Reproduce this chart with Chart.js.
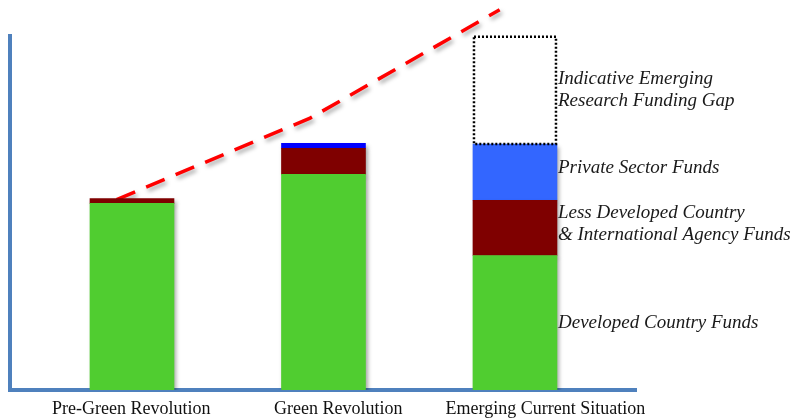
<!DOCTYPE html>
<html>
<head>
<meta charset="utf-8">
<script src="https://cdn.jsdelivr.net/npm/chart.js@4"></script>
<style>
  html, body { margin: 0; padding: 0; background: #fff; }
  #wrap { width: 791px; height: 420px; }
</style>
</head>
<body>
<div id="wrap"><canvas id="fundingChart"></canvas></div>
<script>
const periods = ['Pre-Green Revolution', 'Green Revolution', 'Emerging Current Situation'];
const developedFunds = [52.7, 60.9, 38.0];
const ldcAgencyFunds = [1.4, 7.4, 15.6];
const privateFunds = [null, 1.4, 15.9];
const fundingGap = [null, null, 30.6];
// rough trend of research need (x is shifted slightly left of bar centres)
const needX = [-0.08, 0.93, 1.92];
const needY = [53.8, 76.8, 107.4];
const segmentNotes = [
    ['Developed Country Funds'],
    ['Less Developed Country', '& International Agency Funds'],
    ['Private Sector Funds'],
    ['Indicative Emerging', 'Research Funding Gap']
];

const axisBlue = '#4f81bd';

function points(values) {
    return values.map(function (v, i) { return { x: i, y: v }; });
}

const shadowPlugin = {
    id: 'shadows',
    beforeDatasetDraw: function (chart, args) {
        const ctx = chart.ctx;
        ctx.save();
        if (args.index === 3) return;
        ctx.shadowColor = 'rgba(0,0,0,0.35)';
        ctx.shadowBlur = 4;
        ctx.shadowOffsetX = 2;
        ctx.shadowOffsetY = 3;
    },
    afterDatasetDraw: function (chart) {
        chart.ctx.restore();
    }
};

const notesPlugin = {
    id: 'notes',
    afterDatasetsDraw: function (chart) {
        const ctx = chart.ctx;
        // dotted outline for the funding gap
        const gap = chart.getDatasetMeta(3).data[2];
        ctx.save();
        ctx.strokeStyle = '#000';
        ctx.lineWidth = 2.5;
        ctx.setLineDash([2, 2]);
        ctx.strokeRect(gap.x - gap.width / 2 + 1, gap.y + 1, gap.width - 2, gap.base - gap.y - 1);
        ctx.restore();

        ctx.save();
        ctx.font = 'italic 19px "Liberation Serif", "DejaVu Serif", serif';
        ctx.fillStyle = '#1a1a1a';
        ctx.textBaseline = 'middle';
        for (let d = 0; d < 4; d++) {
            const el = chart.getDatasetMeta(d).data[2];
            const lines = segmentNotes[d];
            const mid = (el.y + el.base) / 2 - (d === 1 || d === 2 ? 4 : 0);
            const x0 = el.x + el.width / 2 + 1;
            lines.forEach(function (t, k) {
                ctx.fillText(t, x0, mid + (k - (lines.length - 1) / 2) * 22);
            });
        }
        ctx.restore();
    }
};

const ctx = document.getElementById('fundingChart').getContext('2d');
new Chart(ctx, {
    data: {
        datasets: [
            { type: 'bar', label: 'Developed Country Funds', data: points(developedFunds), backgroundColor: '#50cd30', stack: 'funds', barThickness: 84 },
            { type: 'bar', label: 'LDC & Agency Funds', data: points(ldcAgencyFunds), backgroundColor: '#7f0000', stack: 'funds', barThickness: 84 },
            { type: 'bar', label: 'Private Sector Funds', data: points(privateFunds), backgroundColor: ['#0000ff', '#0000ff', '#3366ff'], stack: 'funds', barThickness: 84 },
            { type: 'bar', label: 'Funding Gap', data: points(fundingGap), backgroundColor: 'rgba(255,255,255,0)', stack: 'funds', barThickness: 84 },
            {
                type: 'line', label: 'Need', stack: 'trend',
                data: needX.map(function (x, i) { return { x: x, y: needY[i] }; }),
                borderColor: '#ff0000', borderWidth: 3.5, borderDash: [20, 12],
                pointRadius: 0, tension: 0, fill: false, clip: false
            }
        ]
    },
    options: {
        responsive: true,
        maintainAspectRatio: false,
        animation: false,
        layout: { padding: { left: 10, right: 155, top: 36, bottom: -8 } },
        plugins: { legend: { display: false }, tooltip: { enabled: false } },
        scales: {
            x: {
                type: 'linear', position: 'bottom', stacked: true, offset: false,
                min: -0.637, max: 2.632,
                grid: { display: false, drawTicks: false, offset: false },
                ticks: { display: false },
                border: { display: true, color: axisBlue, width: 4 }
            },
            xl: {
                type: 'linear', position: 'bottom', offset: false,
                min: -0.586, max: 2.438,
                afterBuildTicks: function (scale) {
                    scale.ticks = periods.map(function (p, i) { return { value: i }; });
                },
                grid: { display: false, drawTicks: false },
                border: { display: false },
                ticks: {
                    padding: 10,
                    color: '#111',
                    font: { family: '"Liberation Serif", "DejaVu Serif", serif', size: 18, lineHeight: 1 },
                    callback: function (v) { return periods[v] || ''; }
                }
            },
            y: {
                stacked: true,
                min: 0, max: 100,
                grid: { display: false, drawTicks: false },
                ticks: { display: false },
                border: { display: true, color: axisBlue, width: 4 }
            }
        }
    },
    plugins: [shadowPlugin, notesPlugin]
});
</script>
</body>
</html>
